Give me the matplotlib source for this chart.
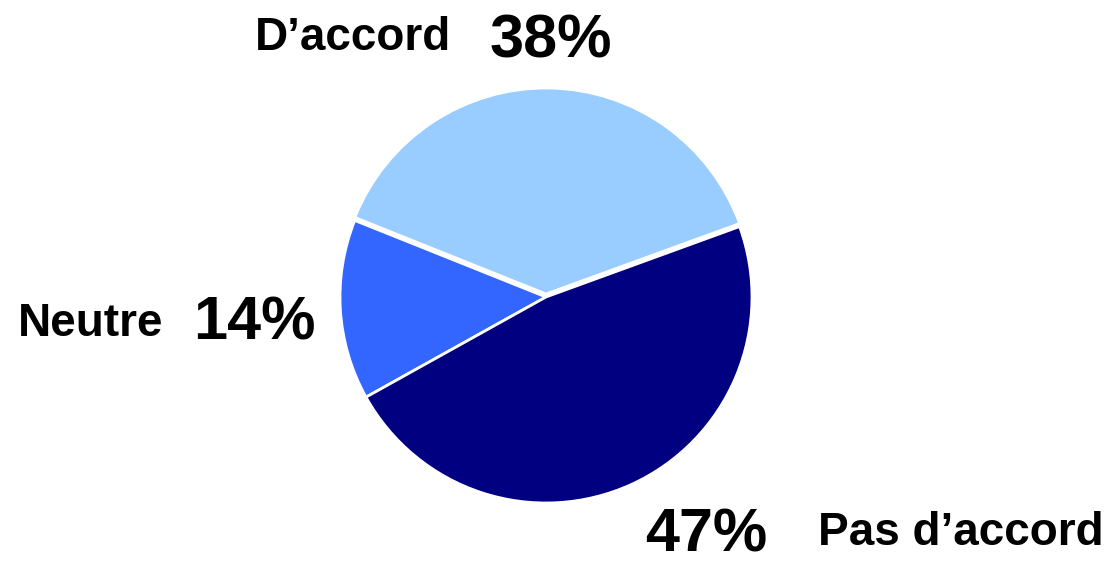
import matplotlib
matplotlib.use("Agg")
import matplotlib.pyplot as plt

labels = ["D\u2019accord", "Neutre", "Pas d\u2019accord"]
values = [38, 14, 47]
pct_labels = ["38%", "14%", "47%"]
colors = ["#99CCFF", "#3366FF", "#000080"]

fig = plt.figure(figsize=(11.15, 5.65), dpi=100)
ax = fig.add_axes([0, 0, 1, 1])

# pie drawn in pixel-like data coords
ax.pie(values, colors=colors, startangle=20, center=(546, 268), radius=206,
       explode=[3, 0, 0], frame=True,
       wedgeprops=dict(edgecolor="white", linewidth=2))
ax.set_xlim(0, 1115)
ax.set_ylim(0, 565)
ax.set_aspect("equal")
ax.axis("off")

font = "Liberation Sans"
# category names (left x, baseline y)
name_pos = [(255, 515), (18, 229), (818, 20)]
pct_pos = [(490, 508), (193, 225), (645, 13)]
for lab, (x, y) in zip(labels, name_pos):
    ax.text(x, y, lab, fontsize=33, fontweight="bold", family=font,
            ha="left", va="baseline")
for lab, (x, y) in zip(pct_labels, pct_pos):
    ax.text(x, y, lab, fontsize=44, fontweight="bold", family=font,
            ha="left", va="baseline")

fig.savefig("out.png", dpi=100)
